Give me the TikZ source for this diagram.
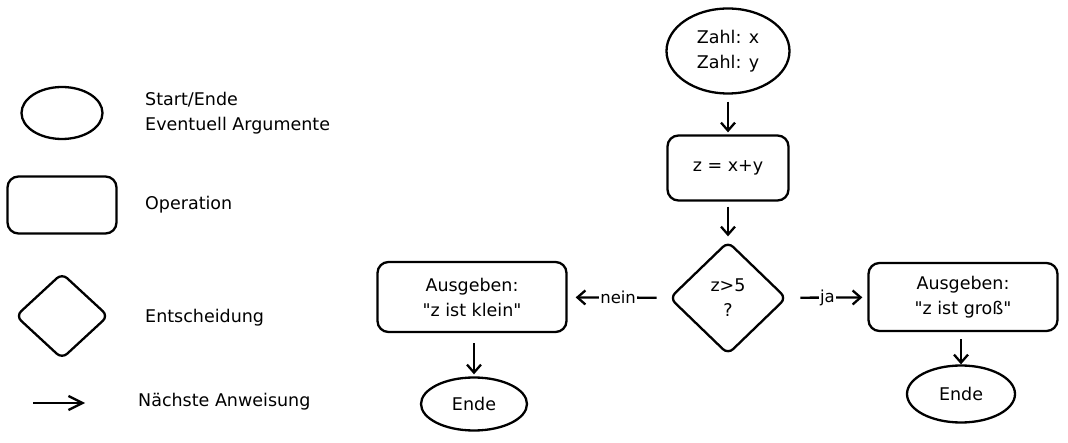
\documentclass[tikz,border=0pt]{standalone}
\usepackage{fontspec}
\newfontfamily\sketchfont{DejaVu Sans}
\usetikzlibrary{positioning, shapes.geometric, arrows.meta}

\begin{document}
\begin{tikzpicture}[x=1pt, y=-1pt, font=\sketchfont\fontsize{17.5}{25}\selectfont,
    startend/.style={draw, ellipse, line width=2.3pt, inner sep=0pt, align=center},
    op/.style={draw, rectangle, rounded corners=11pt, line width=2.3pt, align=center},
    decision/.style={draw, diamond, rounded corners=7pt, line width=2.3pt, inner sep=0pt, align=center},
    legend/.style={anchor=west, align=left, inner sep=0pt},
    next/.style={-{Straight Barb[length=8pt, width=14pt]}, line width=2.3pt},
    answer/.style={fill=white, inner sep=1pt, font=\sketchfont\fontsize{16.5}{18}\selectfont}]
  \useasboundingbox (0,0) rectangle (1068,443);

  % legend
  \node[startend, minimum width=81pt, minimum height=52pt] (lstart) at (62,113) {};
  \node[legend] (lstarttxt) at (145,113) {Start/Ende\\Eventuell Argumente};
  \node[op, minimum width=109pt, minimum height=57pt] (lop) at (62,205) {};
  \node[legend] (loptxt) at (145,205) {Operation};
  \node[decision, minimum width=93pt, minimum height=86pt] (ldec) at (62,316) {};
  \node[legend] (ldectxt) at (145,318) {Entscheidung};
  \coordinate (lnexta) at (33,403);
  \coordinate (lnextb) at (85,403);
  \draw[next, -{Straight Barb[length=14pt, width=14pt]}] (lnexta) -- (lnextb);
  \node[legend] (lnexttxt) at (138,402) {Nächste Anweisung};

  % flow
  \node[startend, minimum width=123pt, minimum height=85pt] (input) at (728,51) {Zahl: x\\Zahl: y};
  \node[op, minimum width=121pt, minimum height=65pt] (sum) at (728,168) {z = x+y};
  \node[decision, minimum width=117pt, minimum height=113pt] (check) at (728,298) {z>5\\?};
  \node[op, minimum width=189pt, minimum height=70pt] (small) at (472,297) {Ausgeben:\\"z ist klein"};
  \node[op, minimum width=189pt, minimum height=68pt] (big) at (963,297) {Ausgeben:\\"z ist groß"};
  \node[startend, minimum width=106pt, minimum height=53pt] (endsmall) at (474,404) {Ende};
  \node[startend, minimum width=108pt, minimum height=57pt] (endbig) at (961,394) {Ende};

  \draw[next, shorten <=7pt, shorten >=2pt] (input) -- (sum);
  \draw[next, shorten <=5pt, shorten >=4pt] (sum) -- (check);
  \draw[next, shorten <=12pt, shorten >=8pt] (check) -- node[answer] {nein} (small);
  \draw[next, shorten <=13pt, shorten >=5pt] (check) -- node[answer] {ja} (big);
  \draw[next, shorten <=10pt, shorten >=2pt] (small.south -| endsmall) -- (endsmall);
  \draw[next, shorten <=7pt, shorten >=0pt] (big.south -| endbig) -- (endbig);
\end{tikzpicture}
\end{document}
